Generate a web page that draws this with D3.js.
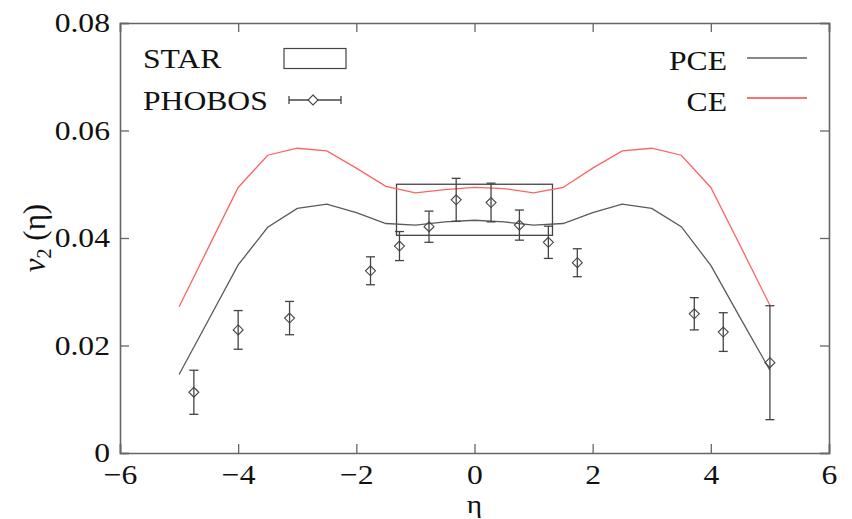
<!DOCTYPE html>
<html>
<head>
<meta charset="utf-8">
<script src="https://cdn.jsdelivr.net/npm/d3@7"></script>
<style>
  html, body { margin: 0; padding: 0; background: #fff; }
  svg { display: block; }
  svg text { font-family: "Liberation Serif", "Times New Roman", "DejaVu Serif", serif !important; fill: #111; }
</style>
</head>
<body>
<svg id="chart" width="852" height="519"></svg>
<script>
// Model curves sampled on a pseudorapidity grid
const etaGrid = [-5, -4.5, -4, -3.5, -3, -2.5, -2, -1.5, -1, -0.5, 0, 0.5, 1, 1.5, 2, 2.5, 3, 3.5, 4, 4.5, 5];
const pceV2 = [0.0146, 0.0248, 0.0350, 0.0420, 0.0455, 0.0463, 0.0447, 0.0427, 0.0424, 0.0430, 0.0433,
               0.0430, 0.0424, 0.0427, 0.0447, 0.0463, 0.0455, 0.0421, 0.0349, 0.0251, 0.0154];
const ceV2 = [0.0272, 0.0383, 0.0494, 0.0554, 0.0567, 0.0562, 0.0530, 0.0496, 0.0484, 0.0490, 0.0494,
              0.0492, 0.0484, 0.0494, 0.0530, 0.0562, 0.0567, 0.0554, 0.0494, 0.0385, 0.0275];

// PHOBOS measurements with errors
const phobosEta = [-4.75, -4.0, -3.13, -1.76, -1.27, -0.77, -0.31, 0.28, 0.76, 1.25, 1.74, 3.72, 4.21, 5.0];
const phobosV2 = [0.0113, 0.0229, 0.0251, 0.0339, 0.0385, 0.0421, 0.0471, 0.0466, 0.0424, 0.0392, 0.0354, 0.0259, 0.0225, 0.0168];
const phobosErr = [0.0041, 0.0036, 0.0031, 0.0026, 0.0027, 0.0029, 0.0040, 0.0036, 0.0028, 0.0030, 0.0026, 0.0030, 0.0036, 0.0106];

// STAR band: eta range and v2 range
const starEta = [-1.32, 1.32];
const starV2 = [0.0405, 0.0500];

// Axis ticks
const xTicks = [-6, -4, -2, 0, 2, 4, 6];
const yTicks = [0, 0.02, 0.04, 0.06, 0.08];

const serif = "'Liberation Serif', 'Times New Roman', 'DejaVu Serif', serif";
const svg = d3.select("#chart");
const margin = { left: 120, right: 23, top: 23, bottom: 66 };
const W = 852, H = 519;
const x = d3.scaleLinear().domain([-6, 6]).range([margin.left, W - margin.right]);
const y = d3.scaleLinear().domain([0, 0.08]).range([H - margin.bottom, margin.top]);

const axisColor = "#666";
const fontSize = 28;
const sx = 1.13;   // horizontal widening of the glyphs

// Axes (ticks point inward, mirrored on top/right)
const gx = svg.append("g").attr("transform", `translate(0,${y(0)})`)
  .call(d3.axisBottom(x).tickValues(xTicks).tickSize(-9).tickPadding(11).tickFormat(d3.format("d")));
const gxTop = svg.append("g").attr("transform", `translate(0,${y(0.08)})`)
  .call(d3.axisTop(x).tickValues(xTicks).tickSize(-9).tickFormat(""));
const gy = svg.append("g").attr("transform", `translate(${x(-6)},0)`)
  .call(d3.axisLeft(y).tickValues(yTicks).tickSize(-9).tickPadding(10 / sx)
    .tickFormat(d => d === 0 ? "0" : d3.format(".2f")(d)));
const gyRight = svg.append("g").attr("transform", `translate(${x(6)},0)`)
  .call(d3.axisRight(y).tickValues(yTicks).tickSize(-9).tickFormat(""));

[gx, gxTop, gy, gyRight].forEach(g => {
  g.attr("font-family", serif);
  g.select(".domain").attr("stroke", axisColor).attr("stroke-width", 1.6);
  g.selectAll(".tick line").attr("stroke", axisColor).attr("stroke-width", 1.3);
  g.selectAll(".tick text")
    .style("font-family", serif)
    .attr("font-size", fontSize).attr("fill", "#111")
    .attr("transform", `scale(${sx},1)`);
});

// Text helper: widened serif label
function label(parent, tx, ty, str, anchor, size) {
  return parent.append("text")
    .attr("transform", `translate(${tx},${ty}) scale(${sx},1)`)
    .attr("text-anchor", anchor || "start")
    .style("font-family", serif)
    .attr("font-size", size || fontSize)
    .text(str);
}

// Axis titles
label(svg, x(0), 513, "η", "middle", 26);

const yTitle = svg.append("text")
  .attr("transform", `translate(45,${y(0.04)}) rotate(-90)`)
  .attr("text-anchor", "middle")
  .style("font-family", serif)
  .attr("font-size", 31);
yTitle.append("tspan").attr("font-style", "italic").text("v");
yTitle.append("tspan").attr("font-size", 20).attr("dy", 6).text("2");
yTitle.append("tspan").attr("dy", -6).text("\u00A0(η)");

// STAR box
svg.append("rect")
  .attr("x", x(starEta[0])).attr("y", y(starV2[1]))
  .attr("width", x(starEta[1]) - x(starEta[0]))
  .attr("height", y(starV2[0]) - y(starV2[1]))
  .attr("fill", "none").attr("stroke", "#444").attr("stroke-width", 1.3);

// Model curves
const line = d3.line().x((d, i) => x(etaGrid[i])).y(d => y(d));
svg.append("path").datum(pceV2).attr("d", line)
  .attr("fill", "none").attr("stroke", "#5a5a5a").attr("stroke-width", 1.3);
svg.append("path").datum(ceV2).attr("d", line)
  .attr("fill", "none").attr("stroke", "#ff6262").attr("stroke-width", 1.3);

// PHOBOS points with error bars
const ptColor = "#444";
const cap = 4.5, dia = 5;
const pts = svg.append("g").selectAll("g").data(phobosEta).join("g");
pts.append("line")
  .attr("x1", d => x(d)).attr("x2", d => x(d))
  .attr("y1", (d, i) => y(phobosV2[i] - phobosErr[i]))
  .attr("y2", (d, i) => y(phobosV2[i] + phobosErr[i]))
  .attr("stroke", ptColor).attr("stroke-width", 1.3);
pts.append("line")
  .attr("x1", d => x(d) - cap).attr("x2", d => x(d) + cap)
  .attr("y1", (d, i) => y(phobosV2[i] - phobosErr[i]))
  .attr("y2", (d, i) => y(phobosV2[i] - phobosErr[i]))
  .attr("stroke", ptColor).attr("stroke-width", 1.3);
pts.append("line")
  .attr("x1", d => x(d) - cap).attr("x2", d => x(d) + cap)
  .attr("y1", (d, i) => y(phobosV2[i] + phobosErr[i]))
  .attr("y2", (d, i) => y(phobosV2[i] + phobosErr[i]))
  .attr("stroke", ptColor).attr("stroke-width", 1.3);
pts.append("path")
  .attr("d", (d, i) => {
    const cx = x(d), cy = y(phobosV2[i]);
    return `M${cx},${cy - dia}L${cx + dia},${cy}L${cx},${cy + dia}L${cx - dia},${cy}Z`;
  })
  .attr("fill", "none").attr("stroke", ptColor).attr("stroke-width", 1.1);

// Legend
const leg = svg.append("g");
label(leg, 143, 68, "STAR");
leg.append("rect").attr("x", 284).attr("y", 48.5).attr("width", 62).attr("height", 20)
  .attr("fill", "none").attr("stroke", "#444").attr("stroke-width", 1.2);
label(leg, 143, 110, "PHOBOS");
leg.append("line").attr("x1", 289).attr("x2", 341).attr("y1", 100).attr("y2", 100)
  .attr("stroke", ptColor).attr("stroke-width", 1.3);
[289, 341].forEach(cx => leg.append("line").attr("x1", cx).attr("x2", cx).attr("y1", 96).attr("y2", 104)
  .attr("stroke", ptColor).attr("stroke-width", 1.3));
leg.append("path").attr("d", "M313,95L318,100L313,105L308,100Z")
  .attr("fill", "#fff").attr("stroke", ptColor).attr("stroke-width", 1.1);

label(leg, 727, 70, "PCE", "end");
leg.append("line").attr("x1", 747).attr("x2", 807).attr("y1", 58).attr("y2", 58)
  .attr("stroke", "#888").attr("stroke-width", 2);
label(leg, 727, 111, "CE", "end");
leg.append("line").attr("x1", 747).attr("x2", 807).attr("y1", 98).attr("y2", 98)
  .attr("stroke", "#ff7070").attr("stroke-width", 2);
</script>
</body>
</html>
